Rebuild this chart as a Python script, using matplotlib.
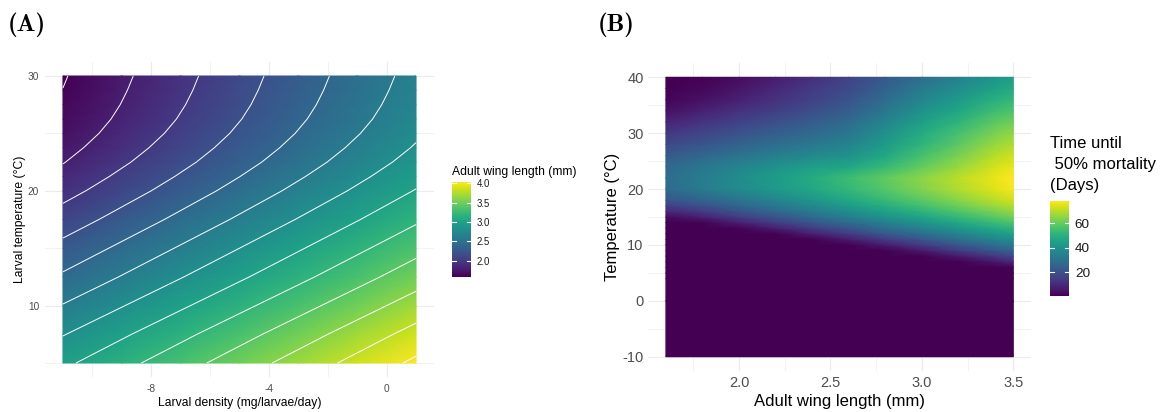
import matplotlib
matplotlib.use('Agg')
import matplotlib.pyplot as plt
import numpy as np

# ---- Panel A: adult wing length (mm) over larval density x larval temperature
densityA = [-11, -9, -7, -5, -3, -1, 1]
tempA = [5, 7.5, 10, 12.5, 15, 17.5, 20, 21.25, 22.5, 23.75, 25, 26.25, 27.5, 28.75, 30]
# one row per temperature, one column per density
wingA = [
    [2.96, 3.14, 3.32, 3.50, 3.68, 3.86, 4.04],
    [2.79, 2.97, 3.15, 3.33, 3.51, 3.69, 3.87],
    [2.61, 2.79, 2.97, 3.15, 3.33, 3.51, 3.69],
    [2.43, 2.61, 2.79, 2.97, 3.15, 3.33, 3.51],
    [2.26, 2.44, 2.62, 2.80, 2.98, 3.16, 3.34],
    [2.09, 2.27, 2.45, 2.63, 2.81, 2.99, 3.17],
    [1.93, 2.11, 2.29, 2.47, 2.65, 2.83, 3.01],
    [1.858, 2.038, 2.218, 2.398, 2.578, 2.758, 2.938],
    [1.792, 1.972, 2.152, 2.332, 2.512, 2.692, 2.872],
    [1.737, 1.917, 2.097, 2.277, 2.457, 2.637, 2.817],
    [1.69, 1.87, 2.05, 2.23, 2.41, 2.59, 2.77],
    [1.653, 1.833, 2.013, 2.193, 2.373, 2.553, 2.733],
    [1.625, 1.805, 1.985, 2.165, 2.345, 2.525, 2.705],
    [1.603, 1.783, 1.963, 2.143, 2.323, 2.503, 2.683],
    [1.585, 1.765, 1.945, 2.125, 2.305, 2.485, 2.665],
]
contourBreaksA = [1.6, 1.8, 2.0, 2.2, 2.4, 2.6, 2.8, 3.0, 3.2, 3.4, 3.6, 3.8, 4.0]
xTicksA = [-8, -4, 0]
xTickLabelsA = ['-8', '-4', '0']
yTicksA = [10, 20, 30]
yTickLabelsA = ['10', '20', '30']
legendTicksA = [2.0, 2.5, 3.0, 3.5, 4.0]
legendLabelsA = ['2.0', '2.5', '3.0', '3.5', '4.0']

# ---- Panel B: time until 50% mortality (days) over wing length x temperature
wingB = [1.6, 1.8, 2.0, 2.2, 2.4, 2.6, 2.8, 3.0, 3.2, 3.4, 3.5]
tempB = [-10, 0, 4, 5, 6, 7, 8, 9, 10, 11, 12, 13, 14, 15, 16, 17, 18,
         20, 22, 24, 26, 28, 30, 32, 34, 36, 38, 40]
daysB = [
    [1, 1, 1, 1, 1, 1, 1, 1, 1, 1, 1],
    [1, 1, 1, 1, 1, 1, 1, 1, 1, 1, 1],
    [1, 1, 1, 1, 1, 1, 1, 1, 1, 1, 1],
    [1, 1, 1, 1, 1, 1, 1, 1, 1, 1, 1],
    [1, 1, 1, 1, 1, 1, 1, 1, 1, 1, 1.7],
    [1, 1, 1, 1, 1, 1, 1, 1, 1, 5.9, 10.0],
    [1, 1, 1, 1, 1, 1, 1, 1, 6.7, 14.0, 18.0],
    [1, 1, 1, 1, 1, 1, 1, 6.6, 14.7, 21.7, 25.4],
    [1, 1, 1, 1, 1, 1, 7.3, 14.4, 22.1, 29.1, 32.7],
    [1, 1, 1, 1, 1, 7.1, 14.9, 21.8, 29.3, 35.9, 39.3],
    [1, 1, 1, 1, 7.7, 14.6, 22.1, 28.7, 35.7, 42.3, 45.5],
    [1, 1, 1.5, 7.7, 14.9, 21.5, 28.6, 35.0, 41.8, 48.2, 51.3],
    [1, 1.5, 8.1, 14.7, 21.5, 27.9, 34.6, 41.0, 47.4, 53.7, 56.6],
    [3.0, 8.0, 14.9, 21.1, 27.4, 33.7, 40.1, 46.2, 52.6, 58.6, 61.5],
    [10.0, 14.5, 20.9, 26.8, 32.7, 38.9, 45.1, 51.0, 57.2, 63.0, 65.9],
    [15.5, 20.2, 26.2, 31.8, 37.5, 43.4, 49.4, 55.3, 61.1, 66.9, 69.6],
    [21.0, 25.0, 30.6, 36.0, 41.5, 47.3, 53.1, 58.8, 64.5, 70.2, 72.8],
    [28.0, 33.0, 38.0, 42.8, 47.3, 52.6, 58.2, 63.7, 69.3, 74.8, 77.3],
    [28.5, 33.5, 38.5, 43.5, 48.5, 54.0, 59.5, 65.0, 70.5, 76.0, 78.5],
    [27.0, 31.8, 36.3, 40.5, 44.3, 46.8, 53.0, 60.0, 66.5, 73.5, 76.0],
    [22.5, 26.5, 30.5, 34.0, 37.5, 40.5, 47.5, 55.5, 62.5, 70.0, 72.5],
    [18.0, 21.5, 25.5, 28.8, 32.0, 35.5, 43.3, 51.5, 59.0, 66.5, 69.0],
    [13.5, 17.0, 20.8, 24.2, 27.5, 31.8, 39.8, 48.5, 55.5, 63.0, 65.5],
    [9.0, 12.6, 16.3, 20.0, 23.5, 28.2, 36.0, 44.5, 51.5, 59.0, 61.5],
    [4.5, 8.2, 11.9, 15.5, 19.2, 24.0, 31.8, 40.5, 47.0, 54.5, 57.0],
    [2.0, 4.5, 8.0, 12.0, 16.3, 21.0, 28.3, 36.5, 43.0, 50.0, 52.5],
    [1.2, 2.5, 5.5, 9.5, 14.1, 18.3, 25.0, 32.5, 38.8, 45.5, 48.0],
    [1.0, 1.5, 3.5, 7.0, 11.5, 16.6, 22.5, 29.0, 35.0, 41.5, 44.0],
]
xTicksB = [2.0, 2.5, 3.0, 3.5]
xTickLabelsB = ['2.0', '2.5', '3.0', '3.5']
yTicksB = [-10, 0, 10, 20, 30, 40]
yTickLabelsB = ['-10', '0', '10', '20', '30', '40']
legendTicksB = [20, 40, 60]
legendLabelsB = ['20', '40', '60']

plt.rcParams['font.family'] = ['Liberation Sans', 'DejaVu Sans']
plt.rcParams['axes.unicode_minus'] = False

W, H = 1173, 412
GRID = '#ebebeb'
TICKCOL = '#4d4d4d'


def box(x0, y0, x1, y1):
    # pixel box (top-left origin) -> figure fraction rect
    return [x0 / W, 1 - y1 / H, (x1 - x0) / W, (y1 - y0) / H]


def styleAxes(ax, xminor, yminor, tickSize, pad):
    for s in ax.spines.values():
        s.set_visible(False)
    ax.set_xticks(xminor, minor=True)
    ax.set_yticks(yminor, minor=True)
    ax.grid(which='major', color=GRID, linewidth=0.8)
    ax.grid(which='minor', color=GRID, linewidth=0.45)
    ax.set_axisbelow(True)
    ax.tick_params(which='both', length=0, labelsize=tickSize, labelcolor=TICKCOL, pad=pad)


def addColorbar(fig, mesh, rect, ticks, labels, labelSize):
    cax = fig.add_axes(rect)
    cb = fig.colorbar(mesh, cax=cax)
    cb.outline.set_visible(False)
    cb.set_ticks(ticks)
    cb.set_ticklabels(labels)
    cax.tick_params(length=0, labelsize=labelSize, pad=4, labelcolor='#1a1a1a')
    for v in ticks:
        cax.axhline(v, 0, 0.2, color='white', linewidth=0.8)
        cax.axhline(v, 0.8, 1, color='white', linewidth=0.8)
    return cb


fig = plt.figure(figsize=(W / 100, H / 100), dpi=100)

# ---- panel A
axA = fig.add_axes(box(45.3, 61.65, 433.7, 377.35))
meshA = axA.pcolormesh(densityA, tempA, wingA, shading='gouraud', cmap='viridis', zorder=1)
axA.contour(densityA, tempA, wingA, levels=contourBreaksA, colors='white', linewidths=0.7, zorder=2)
axA.set_xlim(-11.6, 1.6)
axA.set_ylim(3.75, 31.25)
axA.set_xticks(xTicksA)
axA.set_xticklabels(xTickLabelsA)
axA.set_yticks(yTicksA)
axA.set_yticklabels(yTickLabelsA)
styleAxes(axA, [-10, -6, -2], [5, 15, 25], 7.3, 4.5)
axA.set_xlabel('Larval density (mg/larvae/day)', fontsize=8.7, labelpad=2.5)
axA.set_ylabel('Larval temperature (°C)', fontsize=8.7, labelpad=1.5)

addColorbar(fig, meshA, box(451.7, 181.7, 470.7, 276.7), legendTicksA, legendLabelsA, 6.9)
fig.text(451.7 / W, 1 - 174.5 / H, 'Adult wing length (mm)', fontsize=8.7, va='baseline')

# ---- panel B
axB = fig.add_axes(box(648.5, 63.3, 1030.7, 370.7))
meshB = axB.pcolormesh(wingB, tempB, daysB, shading='gouraud', cmap='viridis', zorder=1)
axB.set_xlim(1.505, 3.595)
axB.set_ylim(-12.5, 42.5)
axB.set_xticks(xTicksB)
axB.set_xticklabels(xTickLabelsB)
axB.set_yticks(yTicksB)
axB.set_yticklabels(yTickLabelsB)
styleAxes(axB, [1.75, 2.25, 2.75, 3.25], [-5, 5, 15, 25, 35], 10.5, 3.5)
axB.set_xlabel('Adult wing length (mm)', fontsize=12, labelpad=3)
axB.set_ylabel('Temperature (°C)', fontsize=12, labelpad=2)

addColorbar(fig, meshB, box(1050, 200.7, 1069.3, 295.7), legendTicksB, legendLabelsB, 9.7)
for line, base in zip(['Time until', ' 50% mortality', '(Days)'], [148, 169, 190]):
    fig.text(1050 / W, 1 - base / H, line, fontsize=12, va='baseline')

# ---- panel tags (Computer Modern bold, shipped with matplotlib)
fig.text(8 / W, 1 - 31 / H, '(A)', family=['cmb10', 'DejaVu Serif'], fontsize=18, va='baseline')
fig.text(598 / W, 1 - 31 / H, '(B)', family=['cmb10', 'DejaVu Serif'], fontsize=18, va='baseline')

fig.savefig('out.png', dpi=100, facecolor='white')
